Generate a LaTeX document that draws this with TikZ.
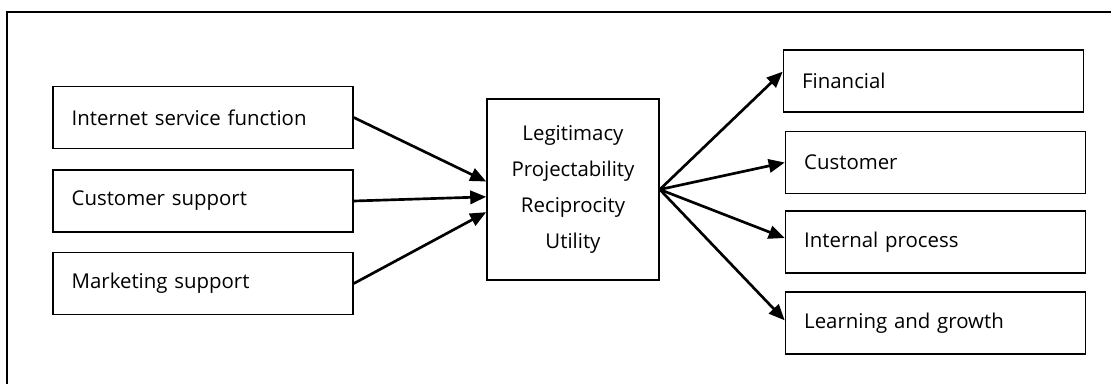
\documentclass[tikz,border=0pt]{standalone}
\usepackage{fontspec}
\setmainfont{Open Sans}
\usetikzlibrary{arrows.meta}

\tikzset{
  sidebox/.style={draw, line width=1.2pt, rectangle, minimum height=46.5pt,
    text width=197pt, inner xsep=14pt, align=left,
    font=\fontsize{15.3}{18}\selectfont},
  midbox/.style={draw, line width=1.2pt, rectangle, minimum width=129pt,
    minimum height=136pt, align=center,
    font=\fontsize{15.3}{27}\selectfont},
  flow/.style={line width=2pt, -{Triangle[length=12pt,width=10pt]}}
}

\begin{document}
\begin{tikzpicture}[x=0.75pt,y=0.75pt,yscale=-1,xscale=1]
\clip (0,0) rectangle (1111,383);
\useasboundingbox (0,0) rectangle (1111,383);

%Shape: Frame
\draw [line width=1.2pt] (7,12) rectangle (1125,400);

% Input boxes
\node [sidebox] (isf) at (203,117.5) {Internet service function};
\node [sidebox] (cs) at (203,201) {Customer support};
\node [sidebox] (ms) at (203,283.5) {Marketing support};

% Middle box
\node [midbox] (mid) at (573,189.5) {Legitimacy\\Projectability\\Reciprocity\\Utility};

% Output boxes
\node [sidebox] (fin) at (933.5,81) {Financial};
\node [sidebox] (cus) at (935.5,162.5) {Customer};
\node [sidebox] (ipr) at (935.5,242) {Internal process};
\node [sidebox] (lrn) at (935.5,323) {Learning and growth};

%Straight Lines
\draw [flow] (isf.east) -- ([yshift=-6pt]mid.west);
\draw [flow] (cs.east) -- ([yshift=5.5pt]mid.west);
\draw [flow] (ms.east) -- ([yshift=17pt]mid.west);

\draw [flow] (mid.east) -- ([yshift=-7pt]fin.west);
\draw [flow] (mid.east) -- (cus.west);
\draw [flow] (mid.east) -- ([yshift=-3pt]ipr.west);
\draw [flow] (mid.east) -- ([yshift=-2pt]lrn.west);

\end{tikzpicture}
\end{document}
